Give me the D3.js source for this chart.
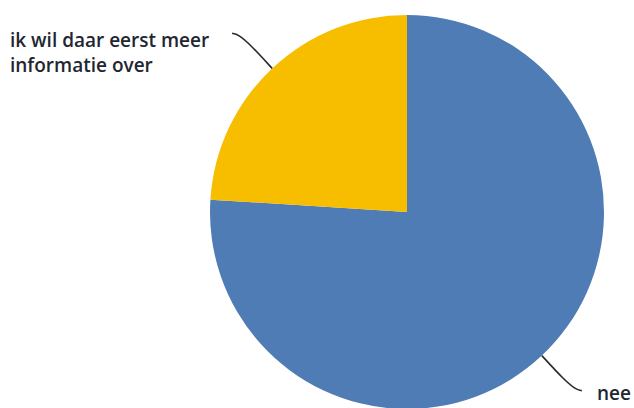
<!DOCTYPE html>
<html><head><meta charset="utf-8">
<script src="https://cdn.jsdelivr.net/npm/d3@7"></script>
<style>body{margin:0;background:#fff}svg{display:block}</style>
</head><body>
<script>
const categories = ["nee", "ik wil daar eerst meer informatie over"];
const values = [76, 24];
const labelLines = [["nee"], ["ik wil daar eerst meer", "informatie over"]];
const colors = ["#4F7CB5", "#F7BE00"];

const W = 634, H = 408, cx = 407, cy = 212, R = 197;
const svg = d3.select("body").append("svg").attr("width", W).attr("height", H);
const g = svg.append("g").attr("transform", `translate(${cx},${cy})`);
const pie = d3.pie().sort(null).value(d => d)(values);
const arc = d3.arc().innerRadius(0).outerRadius(R);
const color = d3.scaleOrdinal().domain(categories).range(colors);

g.selectAll("path.slice").data(pie).join("path")
  .attr("class", "slice").attr("d", arc)
  .attr("fill", (d, i) => color(categories[i]));

// leader lines
const yMid = (pie[1].startAngle + pie[1].endAngle) / 2;
const blueAnchor = yMid - Math.PI; // mirrored position on the blue slice
const pt = (a, r) => [r * Math.sin(a), -r * Math.cos(a)];
const line = d3.line().curve(d3.curveBasis);
function leader(a, sx, sy) {
  const p0 = pt(a, R);
  const p = [[p0[0], p0[1]], [p0[0] + sx * 22, p0[1] + sy * 24], [p0[0] + sx * 34, p0[1] + sy * 34], [p0[0] + sx * 40, p0[1] + sy * 35]];
  g.append("path").attr("d", line(p)).attr("fill", "none").attr("stroke", "#2a2a2a").attr("stroke-width", 1.6);
}
leader(yMid, -1, -1);
leader(blueAnchor, 1, 1);

const font = "'Open Sans', sans-serif";
const t1 = svg.append("text")
  .attr("font-family", font).attr("font-size", 19).attr("font-weight", 600).attr("fill", "#222630");
labelLines[1].forEach((s, i) => t1.append("tspan").attr("x", 10).attr("y", 47 + i * 25).text(s));
svg.append("text").attr("x", 597).attr("y", 400)
  .attr("font-family", font).attr("font-size", 19).attr("font-weight", 600).attr("fill", "#222630")
  .text(labelLines[0][0]);
</script>
</body></html>
